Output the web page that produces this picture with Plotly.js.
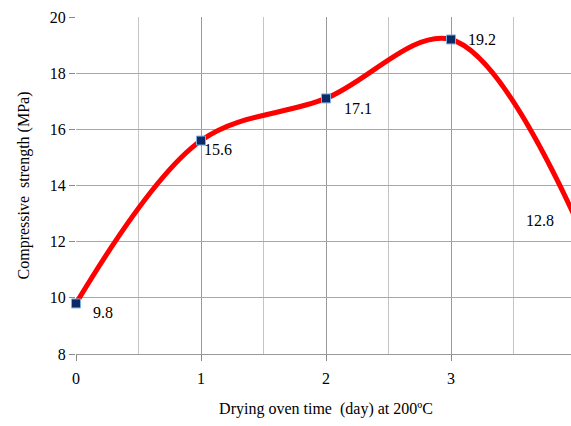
<!DOCTYPE html>
<html>
<head>
<meta charset="utf-8">
<script src="https://cdn.plot.ly/plotly-3.0.1.min.js"></script>
<style>html,body{margin:0;padding:0;background:#fff;overflow:hidden;}#chart{width:576px;height:426px;}</style>
</head>
<body>
<div id="chart"></div>
<script>
const days = [0, 1, 2, 3, 4];
const strength = [9.8, 15.6, 17.1, 19.2, 12.8];
const labels = ["9.8", "15.6", "17.1", "19.2", "12.8"];
const labelShiftX = [27, 17, 32, 31, -36];
const labelShiftY = [-9, -9, -10, 0, -1];
const tickValsX = [0, 1, 2, 3, 4];
const FONT = '"Liberation Serif", "Times New Roman", Times, serif';

const trace = {
  x: days, y: strength, type: 'scatter', mode: 'lines+markers',
  line: {shape: 'spline', smoothing: 1, color: '#ff0000', width: 5},
  marker: {symbol: 'square', size: 9, color: '#0b2a66', line: {color: '#7fb0e0', width: 1}},
  cliponaxis: false, hoverinfo: 'skip'
};

const annotations = days.map((d, i) => ({
  x: d, y: strength[i], text: labels[i], showarrow: false,
  xshift: labelShiftX[i], yshift: labelShiftY[i],
  font: {family: FONT, size: 16, color: '#000'}
}));

const layout = {
  width: 576, height: 426,
  margin: {l: 76, r: 0, t: 17, b: 72},
  paper_bgcolor: '#fff', plot_bgcolor: '#fff',
  showlegend: false,
  font: {family: FONT, size: 16, color: '#000'},
  xaxis: {
    range: [0, 4], tickvals: tickValsX, ticks: 'outside', ticklen: 6, tickcolor: '#888',
    ticklabelstandoff: 4,
    showgrid: true, gridcolor: '#999', gridwidth: 1,
    minor: {dtick: 0.5, showgrid: true, gridcolor: '#c4c4c4', gridwidth: 1, ticks: ''},
    zeroline: false, showline: true, linecolor: '#999',
    tickfont: {family: FONT, size: 16},
    title: {text: 'Drying oven time  (day) at 200ºC', font: {family: FONT, size: 16}, standoff: 16}
  },
  yaxis: {
    range: [8, 20], dtick: 2, ticks: 'outside', ticklen: 6, tickcolor: '#888',
    showgrid: true, gridcolor: '#a8a8a8', gridwidth: 1,
    zeroline: false, showline: false,
    tickfont: {family: FONT, size: 16},
    title: {text: 'Compressive  strength (MPa)', font: {family: FONT, size: 16}, standoff: 16}
  },
  annotations: annotations
};

Plotly.newPlot('chart', [trace], layout, {displayModeBar: false, staticPlot: true});
</script>
</body>
</html>
